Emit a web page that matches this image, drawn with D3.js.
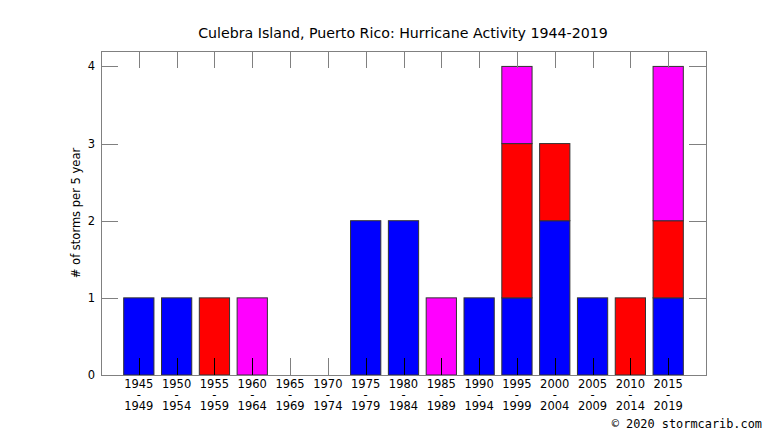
<!DOCTYPE html>
<html>
<head>
<meta charset="utf-8">
<script src="https://cdn.jsdelivr.net/npm/d3@7"></script>
<style>
  body { margin: 0; background: #fff; }
  text { font-family: "DejaVu Sans", sans-serif; fill: #000; }
</style>
</head>
<body>
<svg id="chart" width="766" height="431"></svg>
<script>
// periods (start - end)
const starts = ["1945","1950","1955","1960","1965","1970","1975","1980","1985","1990","1995","2000","2005","2010","2015"];
const ends   = ["1949","1954","1959","1964","1969","1974","1979","1984","1989","1994","1999","2004","2009","2014","2019"];
// storms per 5 years, stacked bottom to top
const blue    = [1,1,0,0,0,0,2,2,0,1,1,2,1,0,1];
const red     = [0,0,1,0,0,0,0,0,0,0,2,1,0,1,1];
const magenta = [0,0,0,1,0,0,0,0,1,0,1,0,0,0,2];
const yTicks = [0,1,2,3,4];

const svg = d3.select("#chart");
const plotL = 101, plotR = 706, plotT = 51, plotB = 375;

const x = d3.scaleLinear().domain([0, starts.length + 1]).range([plotL, plotR]);
const y = d3.scaleLinear().domain([0, 4.2]).range([plotB, plotT]);
const barW = x(0.8) - x(0);

// stacked bars
const series = [
  { vals: blue, color: "#0000ff" },
  { vals: red, color: "#ff0000" },
  { vals: magenta, color: "#ff00ff" }
];
const base = starts.map(() => 0);
series.forEach((s) => {
  s.vals.forEach((v, i) => {
    if (v > 0) {
      svg.append("rect")
        .attr("x", x(i + 1) - barW / 2)
        .attr("y", y(base[i] + v))
        .attr("width", barW)
        .attr("height", y(base[i]) - y(base[i] + v))
        .attr("fill", s.color)
        .attr("stroke", "#333")
        .attr("stroke-width", 1);
      base[i] += v;
    }
  });
});

const tickCol = "#808080";
const g = svg.append("g").attr("stroke", tickCol).attr("stroke-width", 1).attr("fill", "none");
// y ticks (left and right, inward)
yTicks.forEach((t) => {
  const yy = Math.round(y(t)) + 0.5;
  g.append("line").attr("x1", plotL).attr("x2", plotL + 17).attr("y1", yy).attr("y2", yy);
  g.append("line").attr("x1", plotR).attr("x2", plotR - 17).attr("y1", yy).attr("y2", yy);
});
// x ticks (top and bottom, inward)
starts.forEach((d, i) => {
  const xx = Math.round(x(i + 1)) + 0.5;
  g.append("line").attr("x1", xx).attr("x2", xx).attr("y1", plotT).attr("y2", plotT + 17);
  g.append("line").attr("x1", xx).attr("x2", xx).attr("y1", plotB).attr("y2", plotB - 17)
    .attr("stroke", base[i] > 0 ? "#000" : tickCol);
});
// border
g.append("rect")
  .attr("x", plotL + 0.5).attr("y", plotT + 0.5)
  .attr("width", plotR - plotL).attr("height", plotB - plotT);

// y tick labels
svg.selectAll(".ylab").data(yTicks).enter().append("text")
  .attr("x", plotL - 6).attr("y", (d) => y(d))
  .attr("dy", "0.35em").attr("text-anchor", "end")
  .style("font-size", "11.5px").text((d) => d);

// x tick labels
starts.forEach((s, i) => {
  const t = svg.append("text").attr("text-anchor", "middle").style("font-size", "11.5px");
  t.append("tspan").attr("x", x(i + 1)).attr("y", 388).text(s);
  t.append("tspan").attr("x", x(i + 1)).attr("y", 399).text("-");
  t.append("tspan").attr("x", x(i + 1)).attr("y", 410).text(ends[i]);
});

// title
svg.append("text").attr("x", 403).attr("y", 38).attr("text-anchor", "middle")
  .style("font-size", "14.2px")
  .text("Culebra Island, Puerto Rico: Hurricane Activity 1944-2019");

// y axis label
svg.append("text").attr("transform", "translate(80,213) rotate(-90)")
  .attr("text-anchor", "middle").style("font-size", "11.5px")
  .text("# of storms per 5 year");

// copyright
svg.append("text").attr("x", 762).attr("y", 428).attr("text-anchor", "end")
  .style("font-family", "'DejaVu Sans Mono', monospace").style("font-size", "11.9px")
  .text("\u00a9 2020 stormcarib.com");
</script>
</body>
</html>
